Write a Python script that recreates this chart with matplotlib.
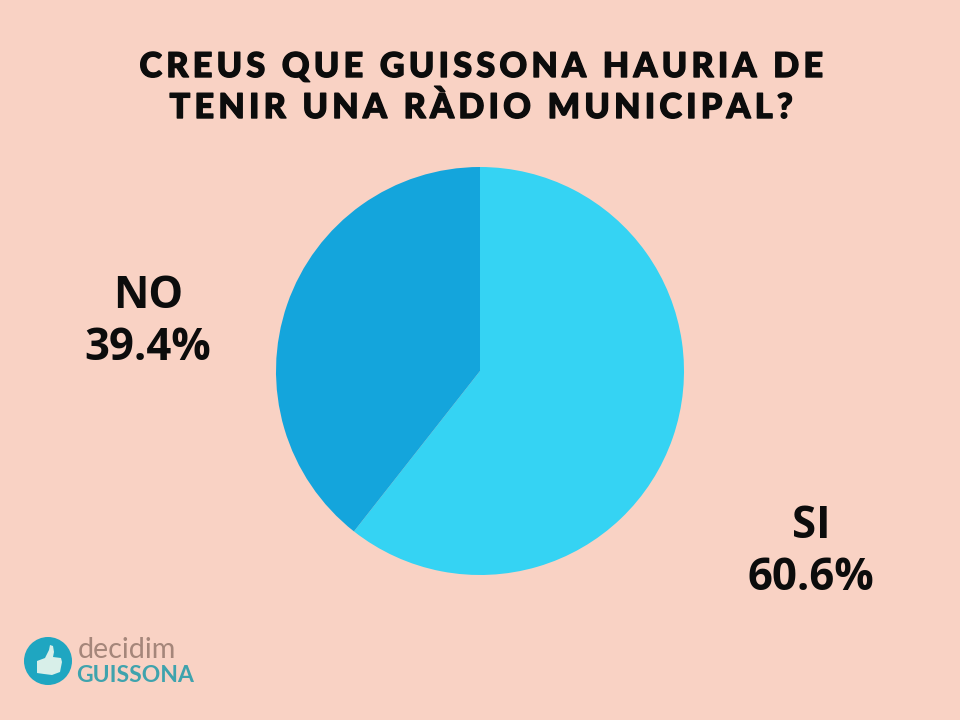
import matplotlib
matplotlib.use('Agg')
import matplotlib.pyplot as plt
import matplotlib.patheffects as pe
from matplotlib.patches import Circle, Polygon

# values
labels = ['SI', 'NO']
values = [60.6, 39.4]
colors = ['#35d3f3', '#14a5dc']
title_lines = ['CREUS QUE GUISSONA HAURIA DE', 'TENIR UNA RÀDIO MUNICIPAL?']

BG = '#f9d2c4'
TEAL = '#1fa6c1'
THUMB = '#d8efe9'
INK = '#0c0c0c'
SPACER = '\u2009'  # thin space between the letters of the title


def spaced(s):
    return SPACER.join(s)


fig = plt.figure(figsize=(9.6, 7.2), dpi=100, facecolor=BG)

# full figure axes in pixel coords, y going down
bg = fig.add_axes([0, 0, 1, 1])
bg.set_xlim(0, 960)
bg.set_ylim(720, 0)
bg.axis('off')

# pie centred on 480,371 radius 204
ax = fig.add_axes([(480-204)/960, 1-(371+204)/720, 408/960, 408/720])
ax.pie(values, colors=colors, startangle=90, counterclock=False, radius=1.0,
       wedgeprops={'linewidth': 0})
ax.set_xlim(-1, 1)
ax.set_ylim(-1, 1)

# the reference title is heavier than Lato gets, so thicken it a bit
title_font = ['Lato', 'DejaVu Sans']
heavy = [pe.withStroke(linewidth=1.0, foreground=INK)]
for y, line in zip([67, 108], title_lines):
    bg.text(481, y, spaced(line), ha='center', va='center', fontsize=24.6, fontweight='black',
            family=title_font, color=INK, path_effects=heavy)

bg.text(148, 297, labels[1], ha='center', va='center', fontsize=31.5, fontweight='bold',
        family='Open Sans', color=INK)
bg.text(148, 349, '%.1f%%' % values[1], ha='center', va='center', fontsize=31.5, fontweight='bold',
        family='Open Sans', color=INK)
bg.text(811, 526, labels[0], ha='center', va='center', fontsize=31.5, fontweight='bold',
        family='Open Sans', color=INK)
bg.text(811, 578, '%.1f%%' % values[0], ha='center', va='center', fontsize=31.5, fontweight='bold',
        family='Open Sans', color=INK)

# logo
bg.add_patch(Circle((48, 661), 24, color=TEAL, lw=0))
bg.add_patch(Polygon([[37, 661], [45, 658], [49, 650], [50, 645], [53, 646], [54, 652], [53, 657],
                      [61, 658], [62, 662], [60, 672], [52, 675], [44, 674], [37, 673]],
                     color=THUMB, lw=0))
bg.text(78, 650, 'decidim', ha='left', va='center', fontsize=20.6, family='Lato', color='#a5867a')
bg.text(76, 675, 'GUISSONA', ha='left', va='center', fontsize=16.5, fontweight='bold', family='Lato', color='#3fa3ad')

fig.savefig('out.png', dpi=100, facecolor=BG)
